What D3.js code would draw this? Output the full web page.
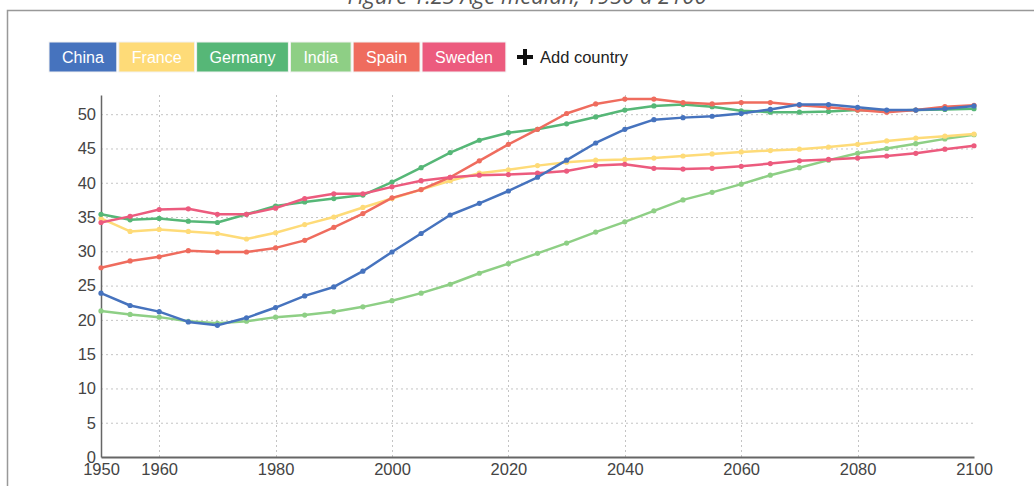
<!DOCTYPE html>
<html>
<head>
<meta charset="utf-8">
<script src="https://cdn.jsdelivr.net/npm/d3@7"></script>
<style>
  body { margin: 0; background: #fff; }
  svg { display: block; font-family: "Liberation Sans", Arial, sans-serif; }
  .grid line { stroke: #c4c4c4; stroke-dasharray: 2,3; }
  .axis text { fill: #444; font-size: 16.5px; }
</style>
</head>
<body>
<svg width="1034" height="486"></svg>
<script>
let years = [1950, 1955, 1960, 1965, 1970, 1975, 1980, 1985, 1990, 1995,
             2000, 2005, 2010, 2015, 2020, 2025, 2030, 2035, 2040, 2045,
             2050, 2055, 2060, 2065, 2070, 2075, 2080, 2085, 2090, 2095, 2100];

let countries = ["China", "France", "Germany", "India", "Spain", "Sweden"];

let china   = [23.9, 22.1, 21.2, 19.7, 19.2, 20.3, 21.8, 23.5, 24.8, 27.1, 29.9, 32.6, 35.3, 37.0, 38.8, 40.8,
               43.3, 45.8, 47.8, 49.2, 49.5, 49.7, 50.1, 50.7, 51.4, 51.4, 51.0, 50.6, 50.6, 50.8, 51.2];
let france  = [34.8, 32.9, 33.2, 32.9, 32.6, 31.8, 32.7, 33.9, 35.0, 36.4, 37.7, 39.0, 40.3, 41.4, 41.9, 42.5,
               43.0, 43.3, 43.4, 43.6, 43.9, 44.2, 44.5, 44.7, 44.9, 45.2, 45.6, 46.1, 46.5, 46.8, 47.1];
let germany = [35.4, 34.6, 34.8, 34.4, 34.2, 35.4, 36.6, 37.2, 37.7, 38.2, 40.1, 42.2, 44.4, 46.2, 47.3, 47.8,
               48.6, 49.6, 50.6, 51.2, 51.4, 51.1, 50.5, 50.3, 50.3, 50.4, 50.6, 50.5, 50.6, 50.7, 50.8];
let india   = [21.3, 20.8, 20.4, 19.8, 19.5, 19.8, 20.4, 20.7, 21.2, 21.9, 22.8, 23.9, 25.2, 26.8, 28.2, 29.7,
               31.2, 32.8, 34.3, 35.9, 37.5, 38.6, 39.8, 41.1, 42.2, 43.3, 44.3, 45.0, 45.7, 46.4, 47.0];
let spain   = [27.6, 28.6, 29.2, 30.1, 29.9, 29.9, 30.5, 31.6, 33.5, 35.5, 37.8, 39.0, 40.8, 43.2, 45.6, 47.8,
               50.1, 51.5, 52.2, 52.2, 51.7, 51.5, 51.7, 51.7, 51.3, 51.0, 50.6, 50.3, 50.6, 51.1, 51.3];
let sweden  = [34.2, 35.1, 36.1, 36.2, 35.4, 35.4, 36.3, 37.7, 38.4, 38.4, 39.4, 40.3, 40.8, 41.1, 41.2, 41.4,
               41.7, 42.5, 42.7, 42.1, 42.0, 42.1, 42.4, 42.8, 43.2, 43.4, 43.6, 43.9, 44.3, 44.9, 45.4];

let xTicks = [1950, 1960, 1980, 2000, 2020, 2040, 2060, 2080, 2100];
let yTicks = [0, 5, 10, 15, 20, 25, 30, 35, 40, 45, 50];

let colors = ["#4673be", "#fedb78", "#56b777", "#8ecf85", "#ef6c5e", "#ec5b7e"];
let seriesValues = [china, france, germany, india, spain, sweden];

let svg = d3.select("svg");

let x = d3.scaleLinear().domain([1950, 2100]).range([101, 974]),
    y = d3.scaleLinear().domain([0, 52.8]).range([457, 95]);

// frame + cut-off caption
svg.append("rect")
    .attr("x", 7.5).attr("y", 10.5)
    .attr("width", 1100).attr("height", 600)
    .attr("fill", "none")
    .attr("stroke", "#999")
    .attr("stroke-width", 1.5);

svg.append("text")
    .attr("x", 527).attr("y", 4)
    .attr("text-anchor", "middle")
    .style("font-family", "'Open Sans', sans-serif")
    .style("font-style", "italic")
    .style("font-size", "22px")
    .attr("fill", "#555")
    .text("Figure 1.23 Age median, 1950 à 2100");

// legend buttons
let legend = svg.append("g").attr("class", "legend");
let lx = 49;
countries.forEach(function(name, i) {
  let g = legend.append("g").attr("transform", "translate(" + lx + ",42)");
  let rect = g.append("rect")
      .attr("height", 30)
      .attr("fill", colors[i])
      .attr("stroke", "#f2f2f2")
      .attr("stroke-width", 1);
  let t = g.append("text")
      .attr("x", 13).attr("y", 21)
      .attr("fill", "#fff")
      .style("font-size", "16px")
      .text(name);
  let w = t.node().getComputedTextLength() + 26;
  rect.attr("width", w);
  lx += w + 2;
});

let add = legend.append("g").attr("transform", "translate(517,57)");
add.append("path")
    .attr("d", "M-2,-8H2V-2H8V2H2V8H-2V2H-8V-2H-2Z")
    .attr("transform", "translate(8,0)")
    .attr("fill", "#111");
add.append("text")
    .attr("x", 23).attr("y", 6)
    .attr("fill", "#222")
    .style("font-size", "16.5px")
    .text("Add country");

// grid
svg.append("g")
    .attr("class", "grid")
    .selectAll("line")
    .data(yTicks.slice(1))
  .enter().append("line")
    .attr("x1", 101).attr("x2", 974)
    .attr("y1", function(d) { return y(d) + 0.5; })
    .attr("y2", function(d) { return y(d) + 0.5; });

svg.append("g")
    .attr("class", "grid")
    .selectAll("line")
    .data(xTicks.slice(1, -1))
  .enter().append("line")
    .attr("y1", 95).attr("y2", 457)
    .attr("x1", function(d) { return Math.round(x(d)) + 0.5; })
    .attr("x2", function(d) { return Math.round(x(d)) + 0.5; });

// axes
let yAxis = svg.append("g")
    .attr("class", "axis")
    .attr("transform", "translate(101,0)")
    .call(d3.axisLeft(y).tickValues(yTicks).tickSize(0).tickPadding(5));
yAxis.select(".domain").attr("stroke", "#666").attr("stroke-width", 1.5);

let xAxis = svg.append("g")
    .attr("class", "axis")
    .attr("transform", "translate(0,457)")
    .call(d3.axisBottom(x).tickValues(xTicks).tickFormat(d3.format("d")).tickSize(0).tickPadding(6));
xAxis.select(".domain").attr("stroke", "#666").attr("stroke-width", 2);

// series
let line = d3.line()
    .x(function(d, i) { return x(years[i]); })
    .y(function(d) { return y(d); });

let order = [3, 1, 2, 4, 5, 0];
order.forEach(function(k) {
  let g = svg.append("g").attr("class", "series");
  g.append("path")
      .datum(seriesValues[k])
      .attr("d", line)
      .attr("fill", "none")
      .attr("stroke", colors[k])
      .attr("stroke-width", 2.5)
      .attr("stroke-linejoin", "round");
  g.selectAll("circle")
      .data(seriesValues[k])
    .enter().append("circle")
      .attr("cx", function(d, i) { return x(years[i]); })
      .attr("cy", function(d) { return y(d); })
      .attr("r", 2.6)
      .attr("fill", colors[k]);
});
</script>
</body>
</html>
